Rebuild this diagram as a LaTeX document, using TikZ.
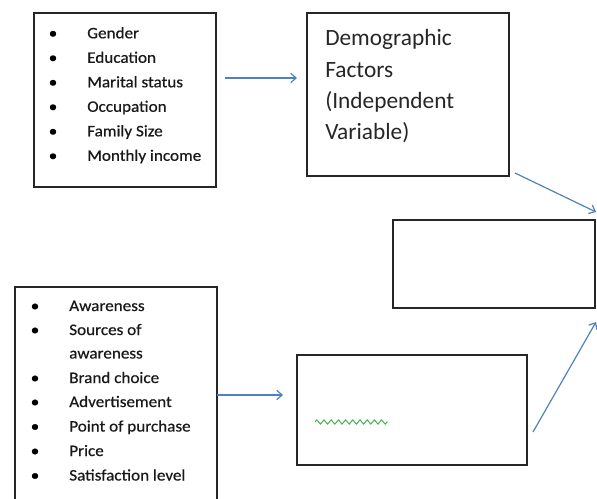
\documentclass[tikz,border=0pt]{standalone}
\usepackage{fontspec}
\setmainfont{Carlito}
\newfontfamily\listfont[FakeStretch=1.07,FakeBold=0.6]{Carlito}
\usetikzlibrary{fit,arrows.meta,decorations.pathmorphing}
\definecolor{arrowblue}{HTML}{4F81BD}
\definecolor{wavegreen}{HTML}{3DAE49}
\begin{document}
\begin{tikzpicture}[x=0.75pt,y=-0.75pt,
  box/.style={draw=black!85, line width=1.2pt, inner sep=0pt},
  conn/.style={draw=arrowblue, line width=0.9pt, -{Straight Barb[length=4pt,width=7pt]}},
  item/.style={anchor=base west, inner sep=0pt, text=black!90, font=\listfont\fontsize{12}{14}\selectfont},
  dot/.style={anchor=base, inner sep=0pt, font=\listfont\fontsize{12}{14}\selectfont},
  title/.style={anchor=base west, inner sep=0pt, text=black!85, font=\fontsize{17.5}{20}\selectfont}]
\useasboundingbox (0,0) rectangle (597,499);
% boxes
\node[box, fit={(34,13) (216,187)}] (b1) {};
\node[box, fit={(307,13) (509,176)}] (b2) {};
\node[box, fit={(393,220) (595,308)}] (b3) {};
\node[box, fit={(15,287) (217,515)}] (b4) {};
\node[box, fit={(297,355) (527,465)}] (b5) {};
% list 1
\foreach \t [count=\i from 0] in {Gender,Education,Marital status,Occupation,Family Size,Monthly income}{
  \node[dot] (d1\i) at (53,{38.3+24.5*\i}) {•};
  \node[item] (t1\i) at (87,{38.3+24.5*\i}) {\t};
}
% title
\node[title] (h1) at (325,46) {Demographic};
\node[title] (h2) at (325,77.3) {Factors};
\node[title] (h3) at (325,108.6) {(Independent};
\node[title] (h4) at (325,140) {Variable)};
% list 2
\node[dot] (d20) at (35,311) {•};   \node[item] (t20) at (69,311) {Awareness};
\node[dot] (d21) at (35,335) {•};   \node[item] (t21) at (69,335) {Sources of};
                                   \node[item] (t22) at (69,358.5) {awareness};
\node[dot] (d23) at (35,383) {•};   \node[item] (t23) at (69,383) {Brand choice};
\node[dot] (d24) at (35,407) {•};   \node[item] (t24) at (69,407) {Advertisement};
\node[dot] (d25) at (35,431.5) {•}; \node[item] (t25) at (69,431.5) {Point of purchase};
\node[dot] (d26) at (35,456) {•};   \node[item] (t26) at (69,456) {Price};
\node[dot] (d27) at (35,480.5) {•}; \node[item] (t27) at (69,480.5) {Satisfaction level};
% connectors
\coordinate (a1s) at (225,78);  \coordinate (a1e) at (297,78);
\coordinate (a2s) at (515,173); \coordinate (a2e) at (596,212);
\coordinate (a3s) at (217,395); \coordinate (a3e) at (283,395);
\coordinate (a4s) at (533,432); \coordinate (a4e) at (596,322);
\draw[conn] (a1s) -- (a1e);
\draw[conn] (a2s) -- (a2e);
\draw[conn] (a3s) -- (a3e);
\draw[conn] (a4s) -- (a4e);
% green squiggle
\coordinate (w1) at (315,422); \coordinate (w2) at (388,422);
\draw[wavegreen, line width=0.7pt, decorate, decoration={zigzag, amplitude=1.6pt, segment length=5.4pt}] (w1) -- (w2);
\end{tikzpicture}
\end{document}
